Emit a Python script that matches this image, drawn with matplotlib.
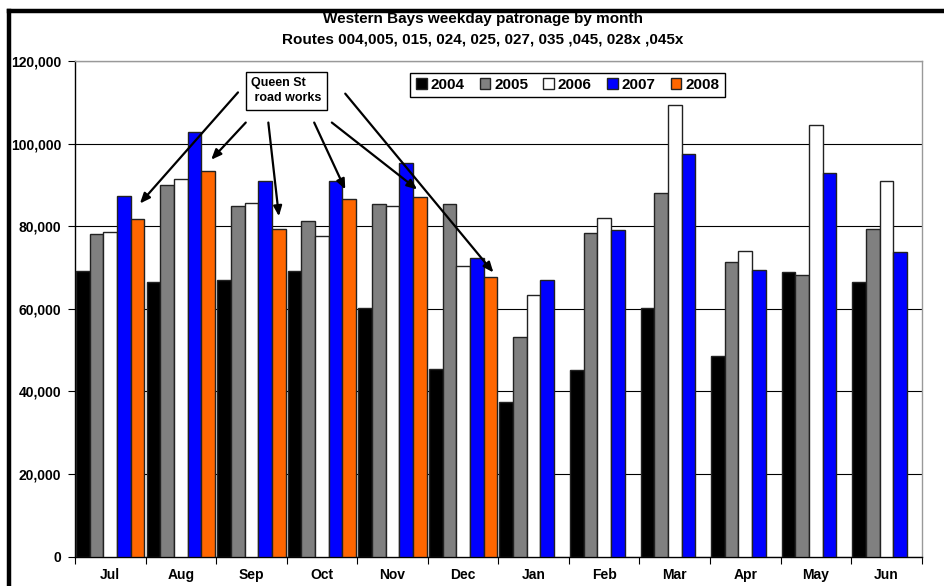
import numpy as np
import matplotlib
matplotlib.use("Agg")
import matplotlib.pyplot as plt
from matplotlib.lines import Line2D
from matplotlib.patches import Patch
from matplotlib.ticker import FuncFormatter, MultipleLocator

plt.rcParams['font.family'] = ['Liberation Sans', 'DejaVu Sans']

months = ["Jul", "Aug", "Sep", "Oct", "Nov", "Dec",
          "Jan", "Feb", "Mar", "Apr", "May", "Jun"]
years = ["2004", "2005", "2006", "2007", "2008"]
nan = np.nan

p2004 = [69200, 66400, 67000, 69100, 60100, 45400, 37400, 45100, 60300, 48500, 68900, 66400]
p2005 = [78000, 89900, 85000, 81300, 85500, 85500, 53300, 78300, 88100, 71300, 68100, 79400]
p2006 = [78600, 91500, 85700, 77700, 85000, 70400, 63300, 82100, 109400, 74000, 104600, 90900]
p2007 = [87400, 102700, 90900, 90900, 95400, 72200, 67100, 79100, 97500, 69300, 92800, 73800]
p2008 = [81800, 93300, 79400, 86600, 87000, 67800, nan, nan, nan, nan, nan, nan]

series = [p2004, p2005, p2006, p2007, p2008]
colors = ["#000000", "#808080", "#FFFFFF", "#0000FF", "#FF6600"]

fig = plt.figure(figsize=(9.44, 5.86), dpi=100)
ax = fig.add_axes([75 / 944, 1 - 556.7 / 586, 846.7 / 944, 495.7 / 586])

n = len(years)
group = 0.97
w = group / n
start = (1 - group) / 2
x0 = np.arange(len(months))
for j, (vals, c) in enumerate(zip(series, colors)):
    vals = np.array(vals, dtype=float)
    ok = ~np.isnan(vals)
    ax.bar(x0[ok] + start + j * w, vals[ok], width=w, align="edge",
           color=c, edgecolor="#222222", linewidth=1.0, zorder=3)

ax.set_xlim(0, len(months))
ax.set_ylim(0, 120000)
ax.yaxis.set_major_locator(MultipleLocator(20000))
ax.yaxis.set_major_formatter(FuncFormatter(lambda v, p: f"{int(v):,}"))
ax.grid(axis="y", color="black", linewidth=0.8, zorder=0)

# category boundaries carry the ticks, month names sit in the middle
ax.set_xticks(np.arange(len(months) + 1))
ax.set_xticklabels([])
ax.set_xticks(x0 + 0.5, minor=True)
ax.set_xticklabels(months, minor=True, fontsize=10, fontweight="bold")
ax.tick_params(axis="x", which="minor", length=0, pad=8)
ax.tick_params(axis="x", which="major", length=5, width=0.8, direction="out")
ax.tick_params(axis="y", length=5, width=0.8, direction="out", pad=5,
               labelsize=10)
for lab in ax.get_yticklabels():
    lab.set_fontweight("bold")

ax.spines["left"].set_color("black")
ax.spines["bottom"].set_color("black")
ax.spines["top"].set_color("#999999")
ax.spines["right"].set_color("#999999")
for s in ax.spines.values():
    s.set_linewidth(1.0)

# legend
handles = [Patch(facecolor=c, edgecolor="#222222", linewidth=1.0) for c in colors]
leg = ax.legend(handles, years, loc="center", bbox_to_anchor=(0.5817, 0.9516),
                ncol=5, prop={"weight": "bold", "size": 11},
                handlelength=0.7, handleheight=0.7, handletextpad=0.25,
                columnspacing=1.0, borderpad=0.35, frameon=True, fancybox=False,
                framealpha=1)
leg.get_frame().set_edgecolor("black")
leg.get_frame().set_linewidth(1.0)
leg.set_zorder(6)

# road works callout
ax.text(2.5, 112800, "Queen St\n road works", ha="left", va="center",
        multialignment="left", fontsize=9, fontweight="bold", linespacing=1.3,
        zorder=7,
        bbox=dict(boxstyle="square,pad=0.45", facecolor="white",
                  edgecolor="black", linewidth=1.0))

callouts = [
    ((2.31, 112400), (0.92, 85500)),
    ((2.42, 105100), (1.93, 96100)),
    ((2.74, 105100), (2.89, 82400)),
    ((3.39, 105100), (3.83, 88900)),
    ((3.64, 105100), (4.85, 88900)),
    ((3.83, 112100), (5.93, 68800)),
]
for (sx, sy), (ex, ey) in callouts:
    ax.annotate("", xy=(ex, ey), xytext=(sx, sy), zorder=7,
                arrowprops=dict(arrowstyle="-|>,head_length=0.6,head_width=0.25",
                                color="black", linewidth=1.6,
                                shrinkA=0, shrinkB=0))

# chart titles
fig.text(483 / 944, 1 - 19 / 586, "Western Bays weekday patronage by month",
         ha="center", va="center", fontsize=11, fontweight="bold")
fig.text(483 / 944, 1 - 40 / 586, "Routes 004,005, 015, 024, 025, 027, 035 ,045, 028x ,045x",
         ha="center", va="center", fontsize=11, fontweight="bold")

# outer chart frame
fig.add_artist(Line2D([9 / 944, 9 / 944], [0, 1 - 11 / 586], transform=fig.transFigure,
                      color="black", linewidth=3.2, solid_capstyle="projecting"))
fig.add_artist(Line2D([9 / 944, 1], [1 - 11 / 586, 1 - 11 / 586], transform=fig.transFigure,
                      color="black", linewidth=3.2, solid_capstyle="projecting"))

fig.savefig("out.png", dpi=100)
